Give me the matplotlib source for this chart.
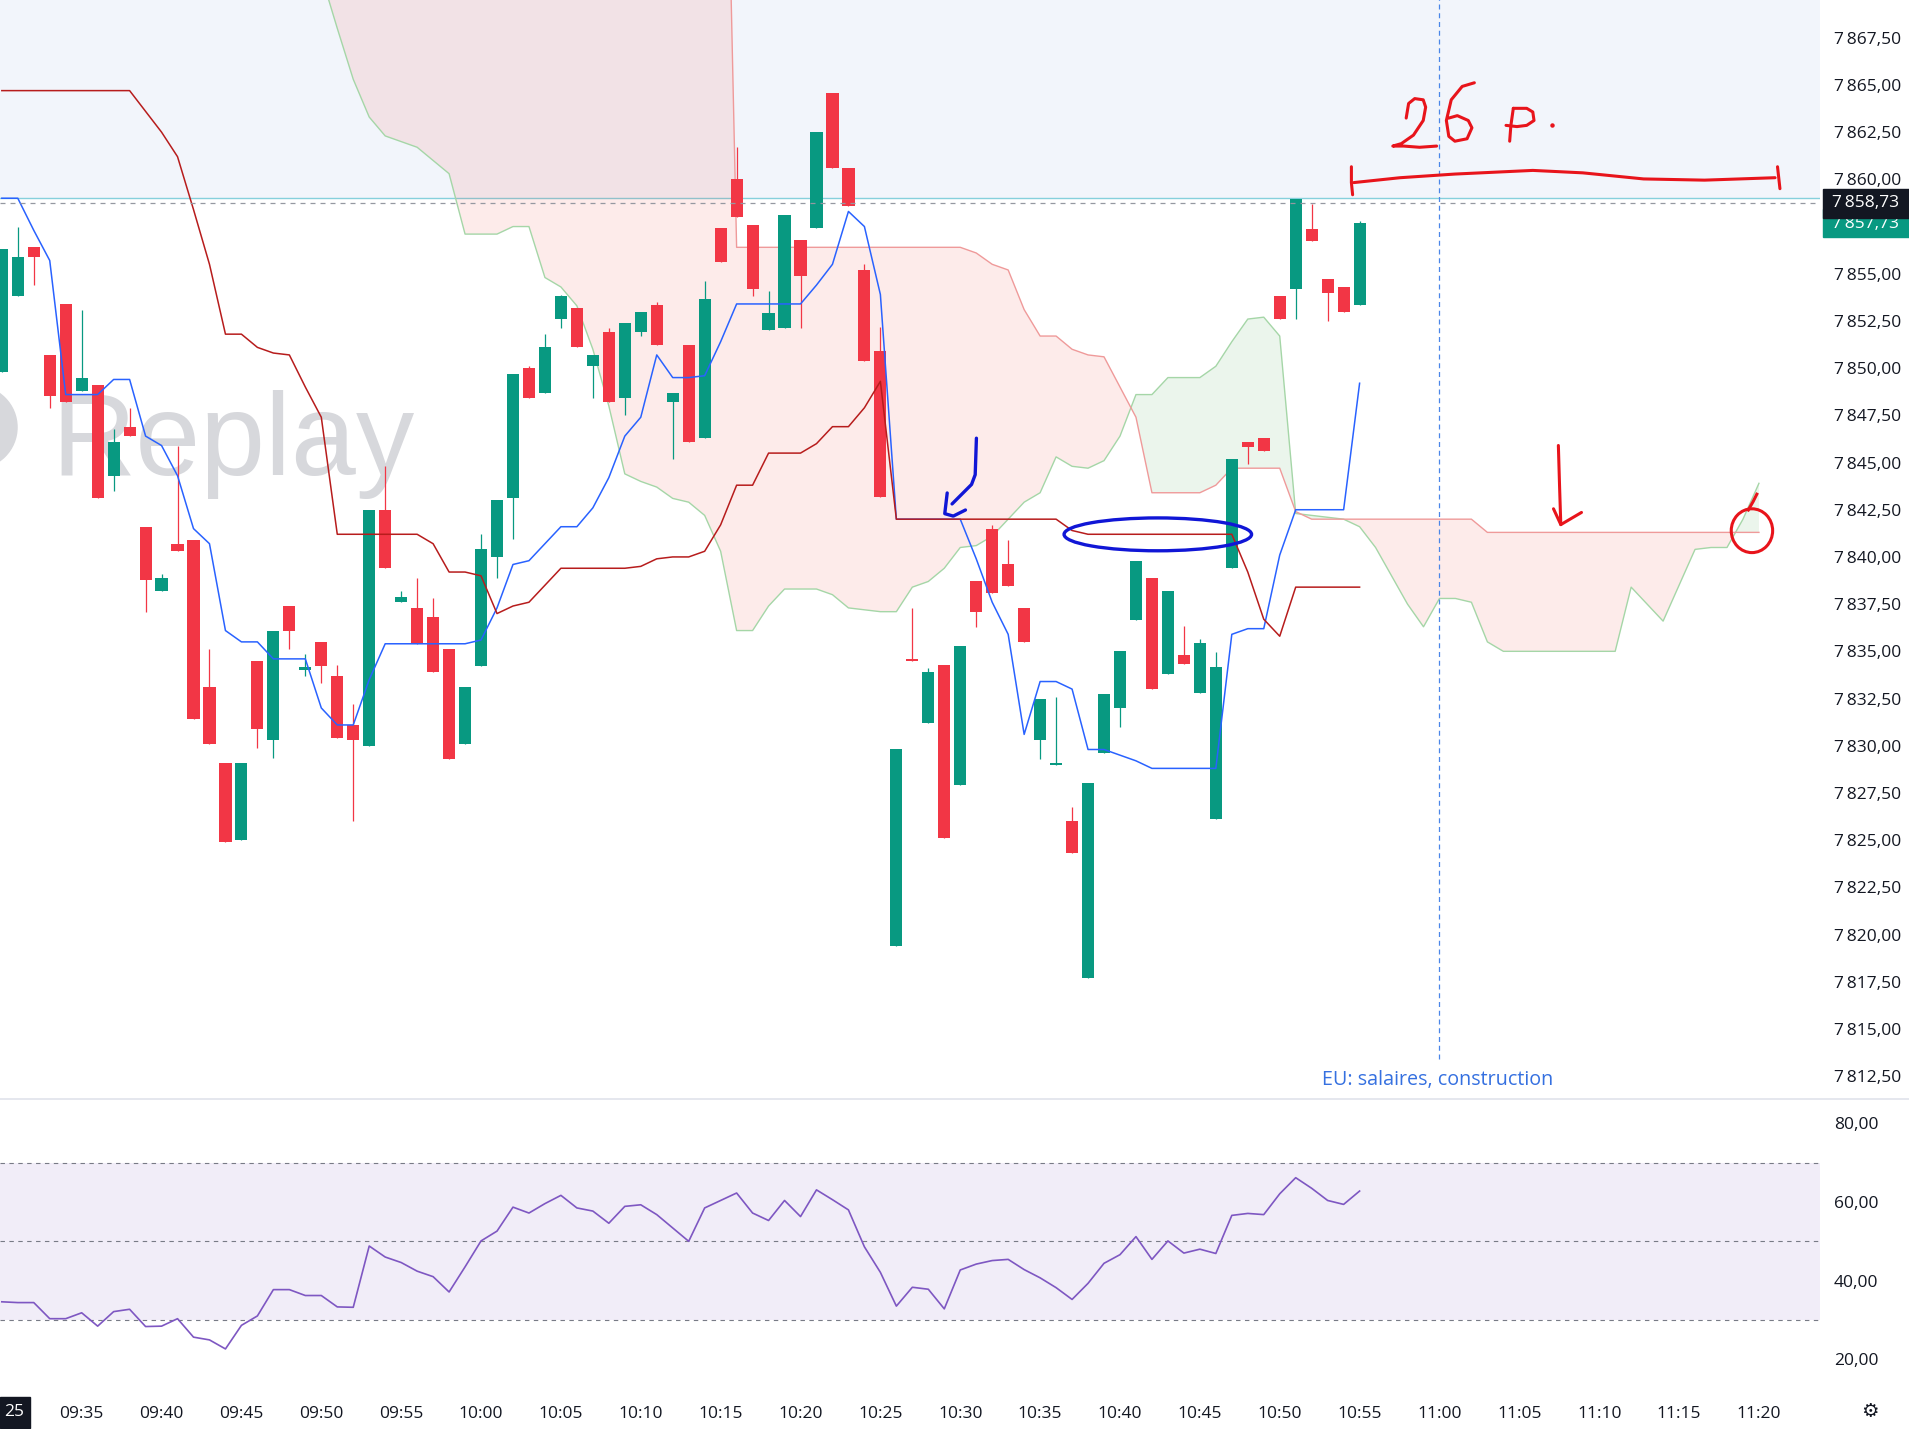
import numpy as np
import matplotlib.pyplot as plt
from matplotlib.patches import Ellipse, Circle, Rectangle
from matplotlib.ticker import FixedLocator, FuncFormatter

plt.rcParams['font.family'] = ['Open Sans', 'DejaVu Sans']

# screenshot grid (px) used for the layout of panes and hand drawings
W, H = 1568, 1174

# ---------------------------------------------------------------
# data : 1 minute bars, index 0 = 09:30
# ---------------------------------------------------------------
time_labels = ['09:35', '09:40', '09:45', '09:50', '09:55', '10:00', '10:05', '10:10',
               '10:15', '10:20', '10:25', '10:30', '10:35', '10:40', '10:45', '10:50',
               '10:55', '11:00', '11:05', '11:10', '11:15', '11:20']

opens = [7849.8, 7853.8, 7856.4, 7850.7, 7853.4, 7848.8, 7849.1, 7844.3, 7846.9, 7841.6,
         7838.2, 7840.7, 7840.9, 7833.1, 7829.1, 7825.0, 7834.5, 7830.3, 7837.4, 7834.0,
         7835.5, 7833.7, 7831.1, 7830.0, 7842.5, 7837.6, 7837.3, 7836.8, 7835.1, 7830.1,
         7834.2, 7840.0, 7843.1, 7850.0, 7848.7, 7852.6, 7853.2, 7850.1, 7851.9, 7848.4,
         7851.9, 7853.35, 7848.2, 7851.2, 7846.3, 7857.4, 7860.0, 7857.6, 7852.0, 7852.1,
         7856.8, 7857.4, 7864.6, 7860.6, 7855.2, 7850.9, 7819.4, 7834.6, 7831.2, 7834.3,
         7827.9, 7838.7, 7841.5, 7839.6, 7837.3, 7830.3, 7829.0, 7826.0, 7817.7, 7829.6,
         7832.0, 7836.65, 7838.9, 7833.8, 7834.8, 7832.8, 7826.1, 7839.4, 7846.1, 7846.3,
         7853.8, 7854.2, 7857.35, 7854.7, 7854.3, 7853.33]
closes = [7856.3, 7855.9, 7855.9, 7848.5, 7848.2, 7849.5, 7843.1, 7846.1, 7846.4, 7838.8,
          7838.9, 7840.3, 7831.4, 7830.1, 7824.9, 7829.1, 7830.9, 7836.1, 7836.1, 7834.15,
          7834.2, 7830.4, 7830.3, 7842.5, 7839.4, 7837.9, 7835.4, 7833.9, 7829.3, 7833.1,
          7840.4, 7843.0, 7849.7, 7848.4, 7851.1, 7853.8, 7851.1, 7850.7, 7848.2, 7852.4,
          7853.0, 7851.2, 7848.7, 7846.1, 7853.65, 7855.6, 7858.0, 7854.2, 7852.9, 7858.1,
          7854.9, 7862.5, 7860.6, 7858.6, 7850.4, 7843.2, 7829.8, 7834.5, 7833.9, 7825.1,
          7835.3, 7837.1, 7838.1, 7838.45, 7835.5, 7832.5, 7829.1, 7824.3, 7828.0, 7832.75,
          7835.0, 7839.8, 7833.0, 7838.2, 7834.35, 7835.45, 7834.15, 7845.2, 7845.8, 7845.6,
          7852.6, 7858.95, 7856.74, 7854.0, 7853.0, 7857.7]
highs = [7856.3, 7857.5, 7856.4, 7850.7, 7853.4, 7853.1, 7849.1, 7846.8, 7847.9, 7841.6,
         7839.1, 7845.9, 7840.9, 7835.1, 7829.1, 7829.1, 7834.5, 7836.1, 7837.4, 7834.85,
         7835.5, 7834.3, 7832.2, 7842.5, 7844.8, 7838.2, 7838.9, 7837.8, 7835.1, 7833.1,
         7841.2, 7843.0, 7849.7, 7850.1, 7851.8, 7853.9, 7853.2, 7850.7, 7852.1, 7852.4,
         7853.0, 7853.5, 7848.7, 7851.2, 7854.6, 7857.4, 7861.7, 7857.6, 7854.1, 7858.1,
         7856.8, 7862.5, 7864.6, 7860.6, 7855.5, 7852.2, 7829.8, 7837.3, 7834.1, 7834.3,
         7835.3, 7838.7, 7841.7, 7840.9, 7837.3, 7832.5, 7832.6, 7826.75, 7828.0, 7832.75,
         7835.0, 7839.8, 7838.9, 7838.2, 7836.35, 7835.65, 7834.95, 7845.2, 7846.1, 7846.3,
         7853.8, 7858.95, 7858.7, 7854.7, 7854.3, 7857.8]
lows = [7849.8, 7853.8, 7854.4, 7847.9, 7848.2, 7848.8, 7843.1, 7843.5, 7846.4, 7837.1,
        7838.2, 7840.3, 7831.4, 7830.1, 7824.9, 7825.0, 7829.9, 7829.35, 7835.1, 7833.7,
        7833.3, 7830.4, 7826.0, 7830.0, 7839.4, 7837.6, 7835.4, 7833.9, 7829.3, 7830.1,
        7834.2, 7838.9, 7840.95, 7848.4, 7848.7, 7852.1, 7851.1, 7848.4, 7848.2, 7847.5,
        7851.7, 7851.2, 7845.2, 7846.1, 7846.3, 7855.6, 7858.0, 7853.8, 7852.0, 7852.1,
        7852.1, 7857.4, 7860.6, 7858.6, 7850.4, 7843.2, 7819.4, 7834.5, 7831.2, 7825.1,
        7827.9, 7836.3, 7838.1, 7838.45, 7835.5, 7829.3, 7829.0, 7824.3, 7817.7, 7829.6,
        7831.0, 7836.65, 7833.0, 7833.8, 7834.35, 7832.8, 7826.1, 7839.4, 7844.9, 7845.6,
        7852.6, 7852.6, 7856.74, 7852.5, 7853.0, 7853.33]

# Ichimoku lines
tenkan = [7859.0, 7859.0, 7857.3, 7855.7, 7848.6, 7848.6, 7848.6, 7849.4, 7849.4, 7846.4,
          7845.9, 7844.3, 7841.5, 7840.7, 7836.1, 7835.5, 7835.5, 7834.6, 7834.6, 7834.6,
          7832.0, 7831.1, 7831.1, 7833.5, 7835.4, 7835.4, 7835.4, 7835.4, 7835.4, 7835.4,
          7835.6, 7837.3, 7839.6, 7839.8, 7840.7, 7841.6, 7841.6, 7842.6, 7844.2, 7846.4,
          7847.4, 7850.7, 7849.5, 7849.5, 7849.6, 7851.4, 7853.4, 7853.4, 7853.4, 7853.4,
          7853.4, 7854.4, 7855.5, 7858.3, 7857.5, 7853.9, 7842.0, 7842.0, 7842.0, 7842.0,
          7842.0, 7839.9, 7837.6, 7835.9, 7830.6, 7833.4, 7833.4, 7833.0, 7829.8, 7829.8,
          7829.5, 7829.2, 7828.8, 7828.8, 7828.8, 7828.8, 7828.8, 7835.9, 7836.2, 7836.2,
          7840.1, 7842.5, 7842.5, 7842.5, 7842.5, 7849.2]
kijun = [7864.7, 7864.7, 7864.7, 7864.7, 7864.7, 7864.7, 7864.7, 7864.7, 7864.7, 7863.6,
         7862.5, 7861.2, 7858.4, 7855.5, 7851.8, 7851.8, 7851.1, 7850.8, 7850.7, 7849.0,
         7847.4, 7841.2, 7841.2, 7841.2, 7841.2, 7841.2, 7841.2, 7840.7, 7839.2, 7839.2,
         7839.0, 7837.0, 7837.4, 7837.6, 7838.5, 7839.4, 7839.4, 7839.4, 7839.4, 7839.4,
         7839.5, 7839.9, 7840.0, 7840.0, 7840.3, 7841.7, 7843.8, 7843.8, 7845.5, 7845.5,
         7845.5, 7846.0, 7846.9, 7846.9, 7847.9, 7849.3, 7842.0, 7842.0, 7842.0, 7842.0,
         7842.0, 7842.0, 7842.0, 7842.0, 7842.0, 7842.0, 7842.0, 7841.4, 7841.2, 7841.2,
         7841.2, 7841.2, 7841.2, 7841.2, 7841.2, 7841.2, 7841.2, 7841.2, 7839.2, 7836.7,
         7835.8, 7838.4, 7838.4, 7838.4, 7838.4, 7838.4]
span_a = [7880.0, 7880.0, 7880.0, 7880.0, 7880.0, 7880.0, 7880.0, 7880.0, 7880.0, 7880.0,
          7880.0, 7880.0, 7880.0, 7880.0, 7880.0, 7880.0, 7880.0, 7880.0, 7880.0, 7875.0,
          7870.8, 7868.0, 7865.3, 7863.3, 7862.3, 7862.0, 7861.7, 7861.0, 7860.3, 7857.1,
          7857.1, 7857.1, 7857.5, 7857.5, 7854.8, 7854.3, 7853.3, 7851.0, 7848.0, 7844.4,
          7844.0, 7843.7, 7843.1, 7842.9, 7842.2, 7840.3, 7836.1, 7836.1, 7837.4, 7838.3,
          7838.3, 7838.3, 7838.0, 7837.3, 7837.2, 7837.1, 7837.1, 7838.4, 7838.7, 7839.4,
          7840.5, 7840.6, 7841.1, 7842.0, 7842.9, 7843.4, 7845.3, 7844.8, 7844.7, 7845.1,
          7846.4, 7848.6, 7848.6, 7849.5, 7849.5, 7849.5, 7850.1, 7851.4, 7852.6, 7852.7,
          7851.7, 7842.3, 7842.2, 7842.1, 7842.0, 7841.6, 7840.5, 7839.0, 7837.5, 7836.3,
          7837.8, 7837.8, 7837.6, 7835.5, 7835.0, 7835.0, 7835.0, 7835.0, 7835.0, 7835.0,
          7835.0, 7835.0, 7838.4, 7837.5, 7836.6, 7838.5, 7840.4, 7840.5, 7840.5, 7842.0,
          7843.9]
span_b = [7895.0] * 46 + [7856.4] * 15 + \
         [7856.1, 7855.5, 7855.2, 7853.1, 7851.7, 7851.7, 7851.0, 7850.7, 7850.6, 7849.0,
          7847.4, 7843.4, 7843.4, 7843.4, 7843.4, 7843.8, 7844.7, 7844.7, 7844.7, 7844.7,
          7842.4] + [7842.0] * 11 + [7841.3] * 18

rsi = [34.6, 34.4, 34.4, 30.3, 30.3, 31.8, 28.4, 32.1, 32.7, 28.3,
       28.4, 30.3, 25.6, 24.9, 22.6, 28.6, 31.0, 37.7, 37.7, 36.2,
       36.2, 33.3, 33.2, 48.8, 46.0, 44.6, 42.4, 41.0, 37.1, 43.5,
       50.1, 52.6, 58.7, 57.2, 59.6, 61.7, 58.5, 57.7, 54.6, 58.9,
       59.3, 56.8, 53.4, 50.0, 58.5, 60.4, 62.3, 57.2, 55.3, 60.4,
       56.3, 63.1, 60.6, 58.0, 48.6, 42.1, 33.5, 38.3, 37.8, 32.8,
       42.7, 44.2, 45.1, 45.4, 42.8, 40.7, 38.2, 35.2, 39.3, 44.4,
       46.6, 51.2, 45.4, 50.1, 47.0, 48.0, 46.9, 56.6, 57.1, 56.8,
       62.1, 66.2, 63.5, 60.4, 59.4, 62.8]

last_price = 7858.73
prev_close = 7857.73
zone_low = 7859.0        # bottom of the light blue zone
event_bar = 90           # 11:00 event marker
event_text = 'EU: salaires, construction'

UP, DOWN = '#089981', '#f23645'
TXT = '#131722'
FS = 12.5


def fmt_price(v, _=None):
    return f'{v:,.2f}'.replace(',', '\u2009').replace('.', ',')


# ==============================================================
# figure / panes
# ==============================================================
fig = plt.figure(figsize=(19.09, 14.29), dpi=100, facecolor='white')

ink = fig.add_axes([0, 0, 1, 1], zorder=5)   # overlay in screenshot pixels
ink.set_xlim(0, W)
ink.set_ylim(H, 0)
ink.axis('off')

ax = fig.add_axes([0, 1 - 903 / H, 1495 / W, 903 / H], zorder=1)
rx = fig.add_axes([0, 1 - 1140 / H, 1495 / W, 237 / H], zorder=1)

n = len(opens)
x = np.arange(n)
xc = np.arange(len(span_a))
o, c = np.array(opens), np.array(closes)
a, b = np.array(span_a), np.array(span_b)

# light blue zone + price lines
ax.axhspan(zone_low, 7900, color='#f2f5fb', zorder=0, lw=0)
ax.axhline(zone_low, color='#86d0dc', lw=1.0, zorder=0.5)
ax.axhline(last_price, color='#9598a1', lw=0.9, ls=(0, (4, 4)), zorder=5)

# cloud
ax.fill_between(xc, a, b, where=b >= a, interpolate=True, color='#f44336', alpha=0.1, lw=0, zorder=1)
ax.fill_between(xc, a, b, where=a > b, interpolate=True, color='#43a047', alpha=0.1, lw=0, zorder=1)
ax.plot(xc, a, color='#a5d6a7', lw=1.0, zorder=1.5)
ax.plot(xc, b, color='#ef9a9a', lw=1.0, zorder=1.5)

# watermark
ax.text(42, 390, 'Replay', transform=ink.transData, fontsize=84, color='#d7d8dc',
        family='Liberation Sans', ha='left', va='baseline', zorder=1.8)
ax.add_patch(Circle((-20, 351), 34, transform=ink.transData, color='#d7d8dc', zorder=1.8))

# event marker
ax.vlines(event_bar, 7813.4, 7870, color='#4a86e8', lw=0.9, ls=(0, (4, 3)), zorder=2)

# candles
cols = np.where(c >= o, UP, DOWN)
ax.vlines(x, lows, highs, colors=cols, lw=0.9, zorder=3)
ax.bar(x, np.maximum(np.abs(c - o), 0.09), 0.76, bottom=np.minimum(o, c),
       color=cols, lw=0, zorder=3)

# conversion / base lines
ax.plot(x, tenkan, color='#2962ff', lw=1.1, zorder=4)
ax.plot(x, kijun, color='#b71c1c', lw=1.1, zorder=4)

ax.set_xlim(-0.114, 113.83)
ax.set_ylim(7811.28, 7869.5)
ax.yaxis.tick_right()
ticks = [t for t in np.arange(7812.5, 7867.6, 2.5) if abs(t - 7857.5) > 0.1]
ax.yaxis.set_major_locator(FixedLocator(ticks))
ax.yaxis.set_major_formatter(FuncFormatter(fmt_price))
ax.tick_params(axis='y', length=0, pad=10, labelsize=FS, labelcolor=TXT)
ax.set_xticks([])
for s in ax.spines.values():
    s.set_visible(False)

# ==============================================================
# RSI pane
# ==============================================================
rx.axhspan(30, 70, color='#7e57c2', alpha=0.1, lw=0)
for lvl in (70, 50, 30):
    rx.axhline(lvl, color='#787b86', lw=0.8, ls=(0, (4, 4)))
rx.plot(x, rsi, color='#7e57c2', lw=1.2)
rx.set_xlim(-0.114, 113.83)
rx.set_ylim(12.75, 86.2)
rx.yaxis.tick_right()
rx.set_yticks([20, 40, 60, 80])
rx.yaxis.set_major_formatter(FuncFormatter(lambda v, _: f'{v:.2f}'.replace('.', ',')))
rx.set_xticks(range(5, 5 * len(time_labels) + 1, 5))
rx.set_xticklabels(time_labels)
rx.tick_params(axis='y', length=0, pad=10, labelsize=FS, labelcolor=TXT)
rx.tick_params(axis='x', length=0, pad=13.5, labelsize=FS, labelcolor=TXT)
for s in rx.spines.values():
    s.set_visible(False)

# ==============================================================
# overlay: price tags, separators, hand drawings
# ==============================================================
ink.plot([0, W], [903, 903], color='#e0e3eb', lw=1.2)

ink.add_patch(Rectangle((1497, 172), 71, 23, color=UP, zorder=1))
ink.text(1532, 184, fmt_price(prev_close), color='white', fontsize=FS,
         ha='center', va='center', zorder=2)
ink.add_patch(Rectangle((1497, 155), 71, 24, color=TXT, zorder=3))
ink.text(1532, 167, fmt_price(last_price), color='white', fontsize=FS,
         ha='center', va='center', zorder=4)

ink.add_patch(Rectangle((0, 1148), 25, 25, color=TXT, zorder=3))
ink.text(12, 1160, '25', color='white', fontsize=FS, ha='center', va='center', zorder=4)
ink.text(1536, 1160, '\u2699', color=TXT, fontsize=14, ha='center', va='center')

ink.text(1181, 887, event_text, color='#3570e0', fontsize=14.2, ha='center', va='center')

RED, BLUE = '#e8141b', '#1016d6'
red_strokes = [
    [(1155, 97), (1157, 85), (1162, 81), (1169, 82), (1171, 88), (1169, 99), (1161, 111),
     (1151, 118), (1144, 120), (1153, 120), (1166, 121), (1180, 120)],        # 2
    [(1211, 68), (1201, 71), (1192, 82), (1188, 99), (1190, 112), (1195, 116), (1205, 114),
     (1209, 105), (1206, 99), (1197, 95), (1190, 97)],                         # 6
    [(1243, 89), (1241, 103), (1240, 116)],                                   # p stem
    [(1243, 89), (1254, 89), (1259, 92), (1260, 99), (1254, 103), (1246, 104), (1237, 103)],
    [(1110, 137), (1110, 150), (1111, 160)],                                  # bracket left
    [(1112, 150), (1150, 146), (1195, 143), (1259, 140), (1300, 142), (1350, 147),
     (1400, 148), (1458, 146)],                                              # bracket
    [(1460, 137), (1461, 146), (1462, 155)],                                  # bracket right
    [(1280, 366), (1281, 400), (1282, 431)],                                  # arrow
    [(1276, 418), (1282, 431), (1299, 421)],
]
for st in red_strokes:
    xs, ys = zip(*st)
    ink.plot(xs, ys, color=RED, lw=2.2, solid_capstyle='round', solid_joinstyle='round')
ink.plot([1275], [103], marker='o', ms=2.2, color=RED)
ink.add_patch(Ellipse((1439, 436), 34, 36, fill=False, ec=RED, lw=2.2))
ink.plot([1436, 1440, 1443], [419, 412, 406], color=RED, lw=2.2)

blue_strokes = [
    [(802, 360), (801, 390), (798, 398), (791, 405), (782, 414)],
    [(778, 405), (776, 422), (783, 424), (793, 419)],
]
for st in blue_strokes:
    xs, ys = zip(*st)
    ink.plot(xs, ys, color=BLUE, lw=2.4, solid_capstyle='round', solid_joinstyle='round')
ink.add_patch(Ellipse((951, 439), 154, 27, fill=False, ec=BLUE, lw=2.4))

fig.savefig('out.png', dpi=100, facecolor='white')
